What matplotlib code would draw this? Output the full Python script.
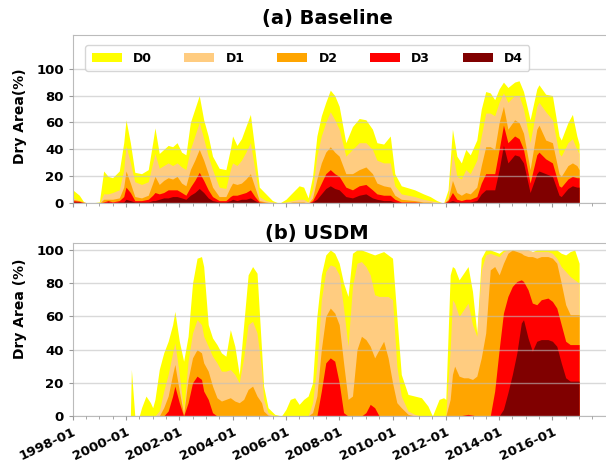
import matplotlib
matplotlib.use("Agg")
import matplotlib.pyplot as plt
import matplotlib.dates as mdates
import numpy as np
import pandas as pd

# cumulative dry area (%) : D0 = D0-D4, D1 = D1-D4, ... D4 = D4 only
labels = ["D0", "D1", "D2", "D3", "D4"]
colors = ["#ffff00", "#ffcc80", "#ffa500", "#ff0000", "#800000"]
tick_dates = ["1998-01", "2000-01", "2002-01", "2004-01", "2006-01",
              "2008-01", "2010-01", "2012-01", "2014-01", "2016-01"]

# ---------------- (a) Baseline ----------------
base_dates = ["1998-01", "1998-04", "1998-06", "1998-08", "1999-01", "1999-03", "1999-05", "1999-07",
              "1999-10", "1999-12", "2000-01", "2000-03", "2000-05", "2000-08", "2000-11", "2001-01",
              "2001-02", "2001-04", "2001-06", "2001-08", "2001-10", "2001-12", "2002-02", "2002-04",
              "2002-06", "2002-08", "2002-10", "2002-12", "2003-02", "2003-04", "2003-07", "2003-10",
              "2003-12", "2004-01", "2004-03", "2004-05", "2004-07", "2004-09", "2004-11", "2005-01",
              "2005-04", "2005-07", "2005-10", "2006-01", "2006-04", "2006-07", "2006-09", "2006-11",
              "2007-01", "2007-03", "2007-05", "2007-07", "2007-09", "2007-11", "2008-01", "2008-04",
              "2008-07", "2008-10", "2009-01", "2009-04", "2009-06", "2009-09", "2009-12", "2010-02",
              "2010-05", "2010-11", "2011-03", "2011-06", "2011-09", "2011-12", "2012-02", "2012-04",
              "2012-06", "2012-08", "2012-10", "2012-12", "2013-03", "2013-05", "2013-07", "2013-09",
              "2013-11", "2014-01", "2014-03", "2014-05", "2014-08", "2014-10", "2014-12", "2015-03",
              "2015-06", "2015-07", "2015-10", "2016-01", "2016-04", "2016-05", "2016-08", "2016-10",
              "2016-12", "2017-01"]
base_d0 = [10, 6, 1, 0, 1, 24, 20, 19, 24, 45, 62, 45, 23, 22, 25, 45,
           56, 37, 40, 43, 42, 45, 38, 36, 60, 70, 80, 62, 50, 35, 26, 25,
           40, 50, 43, 48, 57, 66, 40, 12, 7, 2, 0, 3, 8, 13, 12, 4,
           20, 50, 65, 75, 84, 80, 72, 45, 57, 63, 62, 55, 45, 44, 50, 22,
           13, 10, 7, 5, 2, 0, 10, 55, 35, 30, 40, 36, 47, 70, 83, 82,
           77, 85, 90, 86, 90, 91, 83, 62, 85, 88, 81, 80, 50, 47, 60, 66,
           50, 44]
base_d1 = [4, 2, 1, 0, 0, 7, 7, 8, 10, 25, 43, 30, 16, 14, 16, 30,
           37, 26, 28, 30, 28, 30, 27, 25, 40, 50, 60, 48, 35, 25, 12, 11,
           25, 30, 28, 32, 38, 45, 25, 5, 2, 1, 0, 1, 2, 3, 3, 1,
           10, 35, 50, 60, 68, 62, 55, 35, 40, 45, 45, 40, 32, 30, 30, 13,
           7, 5, 3, 2, 1, 0, 5, 38, 20, 18, 25, 22, 32, 50, 67, 67,
           65, 75, 82, 75, 80, 80, 70, 45, 72, 75, 68, 62, 37, 35, 45, 48,
           40, 37]
base_d2 = [3, 2, 1, 0, 0, 3, 3, 3, 4, 12, 24, 15, 5, 4, 6, 15,
           20, 14, 17, 19, 18, 20, 15, 13, 25, 32, 40, 32, 22, 12, 5, 5,
           12, 15, 14, 15, 18, 22, 12, 2, 1, 0, 0, 0, 1, 1, 1, 0,
           4, 18, 30, 38, 42, 38, 35, 22, 22, 25, 27, 22, 15, 13, 12, 6,
           3, 2, 1, 1, 0, 0, 3, 17, 8, 6, 8, 7, 12, 28, 42, 42,
           40, 60, 72, 55, 62, 60, 52, 25, 55, 58, 47, 45, 22, 20, 28, 30,
           28, 25]
base_d3 = [2, 1.5, 0.5, 0, 0, 1, 2, 1, 2, 5, 12, 8, 2, 2, 3, 6,
           8, 7, 8, 10, 10, 10, 8, 6, 12, 17, 23, 17, 10, 5, 2, 2,
           5, 6, 6, 7, 8, 10, 5, 1, 0.5, 0, 0, 0, 0.5, 0.5, 0.5, 0,
           2, 8, 15, 22, 25, 22, 20, 12, 10, 13, 14, 10, 7, 6, 6, 3,
           1, 1, 0.5, 0, 0, 0, 2, 8, 3, 2, 3, 3, 5, 15, 22, 22,
           22, 40, 58, 45, 50, 48, 40, 15, 36, 38, 33, 30, 13, 12, 18, 20,
           19, 19]
base_d4 = [1, 1, 0, 0, 0, 0, 1, 0, 1, 1, 3, 2, 1, 1, 1, 2,
           2, 3, 4, 4, 5, 5, 4, 3, 6, 8, 11, 8, 4, 2, 1, 1,
           2, 3, 2, 3, 3, 4, 2, 0.5, 0, 0, 0, 0, 0, 0, 0, 0,
           1, 3, 7, 11, 13, 11, 10, 5, 4, 6, 7, 4, 3, 2, 2, 1,
           0.5, 0, 0, 0, 0, 0, 1, 2, 1, 1, 1, 1, 2, 7, 10, 10,
           10, 25, 43, 30, 36, 35, 30, 8, 22, 24, 22, 20, 6, 5, 11, 13,
           12, 12]

# ---------------- (b) USDM ----------------
usdm_dates = ["1998-01-01", "2000-03-01", "2000-03-15", "2000-05-01", "2000-07-01", "2000-08-01",
              "2000-10-01", "2000-12-01", "2001-01-01", "2001-02-01", "2001-04-01", "2001-06-01",
              "2001-08-01", "2001-10-01", "2001-11-01", "2002-01-01", "2002-03-01", "2002-05-01",
              "2002-07-01", "2002-09-01", "2002-11-01", "2002-12-01", "2003-02-01", "2003-04-01",
              "2003-06-01", "2003-08-01", "2003-10-01", "2003-12-01", "2004-02-01", "2004-04-01",
              "2004-06-01", "2004-08-01", "2004-10-01", "2004-12-01", "2005-02-01", "2005-03-01",
              "2005-05-01", "2005-08-01", "2005-11-01", "2006-01-01", "2006-03-01", "2006-05-01",
              "2006-07-01", "2006-09-01", "2006-11-01", "2007-01-01", "2007-03-01", "2007-05-01",
              "2007-07-01", "2007-09-01", "2007-11-01", "2008-01-01", "2008-03-01", "2008-05-01",
              "2008-07-01", "2008-09-01", "2008-11-01", "2009-01-01", "2009-03-01", "2009-05-01",
              "2009-07-01", "2009-09-01", "2009-11-01", "2010-01-01", "2010-03-01", "2010-05-01",
              "2010-08-01", "2010-11-01", "2011-02-01", "2011-05-01", "2011-07-01", "2011-10-01",
              "2011-12-01", "2012-01-01", "2012-03-01", "2012-04-01", "2012-05-01", "2012-07-01",
              "2012-09-01", "2012-11-01", "2013-01-01", "2013-03-01", "2013-05-01", "2013-07-01",
              "2013-09-01", "2013-11-01", "2014-01-01", "2014-03-01", "2014-05-01", "2014-07-01",
              "2014-09-01", "2014-11-01", "2014-12-01", "2015-02-01", "2015-04-01", "2015-06-01",
              "2015-08-01", "2015-11-01", "2016-01-01", "2016-03-01", "2016-05-01", "2016-07-01",
              "2016-09-01", "2016-11-01", "2017-01-01"]
usdm_d0 = [0, 0, 28, 0, 0, 5, 12, 8, 5, 10, 28, 38,
           45, 55, 63, 45, 33, 48, 80, 95, 96, 90, 55, 47,
           43, 38, 36, 52, 42, 25, 55, 85, 90, 86, 40, 18,
           5, 1, 0, 4, 10, 11, 7, 10, 12, 20, 60, 85,
           97, 100, 98, 92, 80, 72, 98, 100, 100, 99, 98, 97,
           98, 99, 97, 95, 60, 25, 13, 12, 11, 6, 0, 10,
           11, 10, 85, 90, 89, 82, 86, 90, 75, 50, 95, 100,
           100, 99, 98, 100, 100, 100, 100, 100, 100, 100, 99, 100,
           100, 100, 100, 100, 98, 97, 99, 100, 92]
usdm_d1 = [0, 0, 0, 0, 0, 0, 0, 0, 0, 0, 3, 15,
           25, 38, 44, 25, 3, 33, 50, 58, 55, 48, 42, 36,
           32, 27, 27, 28, 25, 20, 35, 55, 57, 50, 28, 10,
           2, 0, 0, 0, 0, 0, 0, 0, 0, 8, 30, 70,
           87, 91, 90, 85, 65, 42, 78, 92, 93, 90, 85, 73,
           72, 72, 72, 70, 30, 12, 3, 1, 0, 0, 0, 0,
           0, 0, 40, 70, 68, 60, 64, 68, 55, 48, 88, 97,
           98, 97, 96, 99, 100, 100, 100, 100, 100, 100, 99, 99,
           99, 99, 98, 95, 90, 87, 84, 82, 80]
usdm_d2 = [0, 0, 0, 0, 0, 0, 0, 0, 0, 0, 0, 5,
           12, 25, 31, 15, 1, 22, 35, 40, 38, 32, 27, 18,
           11, 9, 10, 11, 9, 8, 10, 16, 18, 12, 8, 3,
           0.5, 0, 0, 0, 0, 0, 0, 0, 0, 2, 12, 40,
           60, 65, 62, 55, 32, 10, 12, 40, 48, 46, 42, 35,
           40, 45, 35, 20, 8, 5, 1, 0, 0, 0, 0, 0,
           0, 0, 10, 25, 30, 24, 23, 23, 22, 24, 35, 50,
           88, 90, 85, 92, 98, 100, 99, 98, 97, 96, 96, 95,
           96, 96, 95, 92, 80, 67, 61, 61, 61]
usdm_d3 = [0, 0, 0, 0, 0, 0, 0, 0, 0, 0, 0, 0,
           3, 12, 18, 8, 0, 8, 20, 24, 22, 15, 10, 2,
           0, 0, 0, 0, 0, 0, 0, 0, 0, 0, 0, 0,
           0, 0, 0, 0, 0, 0, 0, 0, 0, 0, 0, 15,
           32, 35, 33, 20, 2, 0, 0, 0, 0, 2, 7, 5,
           0, 0, 0, 0, 0, 0, 0, 0, 0, 0, 0, 0,
           0, 0, 0, 0, 0, 0, 0.5, 1, 0.5, 0, 0, 0,
           0, 15, 40, 62, 72, 78, 81, 82, 81, 76, 68, 67,
           70, 71, 69, 65, 55, 45, 43, 43, 43]
usdm_d4 = [0, 0, 0, 0, 0, 0, 0, 0, 0, 0, 0, 0,
           0, 0, 0, 0, 0, 0, 0, 0, 0, 0, 0, 0,
           0, 0, 0, 0, 0, 0, 0, 0, 0, 0, 0, 0,
           0, 0, 0, 0, 0, 0, 0, 0, 0, 0, 0, 0,
           0, 0, 0, 0, 0, 0, 0, 0, 0, 0, 0, 0,
           0, 0, 0, 0, 0, 0, 0, 0, 0, 0, 0, 0,
           0, 0, 0, 0, 0, 0, 0, 0, 0, 0, 0, 0,
           0, 0, 0, 4, 14, 25, 38, 56, 58, 47, 39, 45,
           46, 46, 45, 42, 32, 23, 21, 21, 21]

plt.rcParams["font.family"] = "DejaVu Sans"
plt.rcParams["font.weight"] = "bold"
plt.rcParams["axes.labelweight"] = "bold"
plt.rcParams["axes.titleweight"] = "bold"


def draw_panel(ax, dates, levels, ymax):
    x = pd.to_datetime(dates)
    for lev, c, lab in zip(levels, colors, labels):
        ax.fill_between(x, 0, lev, color=c, lw=0, label=lab)
    ax.set_xlim(pd.Timestamp("1998-01-01"), pd.Timestamp("2018-02-15"))
    ax.set_ylim(0, ymax)
    ax.set_yticks([0, 20, 40, 60, 80, 100])
    ax.grid(axis="y", color="#c0c0c0", lw=1.0, alpha=0.6)
    ax.set_axisbelow(False)
    ax.set_xticks(pd.to_datetime(tick_dates))
    ax.xaxis.set_minor_locator(mdates.MonthLocator(bymonth=[1, 7]))
    ax.xaxis.set_major_formatter(mdates.DateFormatter("%Y-%m"))
    ax.tick_params(axis="both", which="major", length=3, color="#999999", labelsize=9.5)
    ax.tick_params(axis="x", which="minor", length=2, color="#999999")
    for s in ax.spines.values():
        s.set_color("#bbbbbb")


fig = plt.figure(figsize=(6.06, 4.65), dpi=100)
ax1 = fig.add_axes([0.12, 0.5628, 0.885, 0.362])
ax2 = fig.add_axes([0.12, 0.1054, 0.885, 0.3714])

draw_panel(ax1, base_dates, [base_d0, base_d1, base_d2, base_d3, base_d4], 125)
draw_panel(ax2, usdm_dates, [usdm_d0, usdm_d1, usdm_d2, usdm_d3, usdm_d4], 104)

ax1.tick_params(axis="x", labelbottom=False)
for lbl in ax2.get_xticklabels():
    lbl.set_rotation(25)
    lbl.set_ha("right")
    lbl.set_rotation_mode("anchor")

ax1.set_title("(a) Baseline", fontsize=14, x=0.475, pad=8)
ax2.set_title("(b) USDM", fontsize=14, x=0.455, pad=1)
ax1.set_ylabel("Dry Area(%)", fontsize=10)
ax2.set_ylabel("Dry Area (%)", fontsize=10)
ax1.yaxis.set_label_coords(-0.085, 0.52)
ax2.yaxis.set_label_coords(-0.085, 0.62)

ax1.legend(loc="upper left", bbox_to_anchor=(0.012, 0.975), ncol=5, fontsize=9,
           handlelength=2.4, handletextpad=0.9, columnspacing=2.6, borderpad=0.5)

fig.savefig("out.png", dpi=100)
